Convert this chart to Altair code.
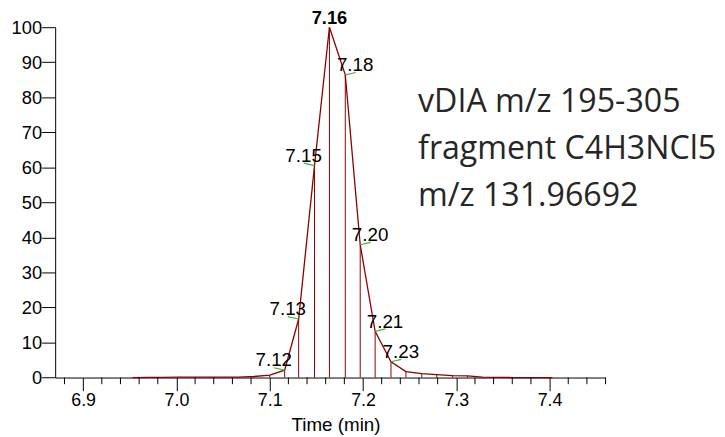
import altair as alt
import pandas as pd

# Scan times (min) and relative abundance (%)
times = [6.953, 6.969, 6.986, 7.002, 7.018, 7.034, 7.051, 7.067, 7.083, 7.100,
         7.116, 7.131, 7.148, 7.164, 7.181, 7.197, 7.213, 7.230, 7.246,
         7.263, 7.279, 7.296, 7.312, 7.328, 7.344, 7.361, 7.377, 7.393, 7.403]
values = [0.0, 0.05, 0.05, 0.1, 0.1, 0.1, 0.15, 0.15, 0.3, 0.7,
          2.1, 16.7, 60.5, 100.0, 86.4, 37.9, 13.2, 4.5, 1.7,
          1.1, 0.85, 0.56, 0.45, 0.1, 0.05, 0.0, 0.0, 0.0, 0.0]

# Peak-label annotations (scan time and displayed text)
label_times = [7.116, 7.131, 7.148, 7.164, 7.181, 7.197, 7.213, 7.230]
label_texts = ["7.12", "7.13", "7.15", "7.16", "7.18", "7.20", "7.21", "7.23"]

# Axis ticks
major_ticks = [6.9, 7.0, 7.1, 7.2, 7.3, 7.4]
minor_ticks = [6.88, 6.92, 6.94, 6.96, 6.98, 7.02, 7.04, 7.06, 7.08, 7.12, 7.14,
               7.16, 7.18, 7.22, 7.24, 7.26, 7.28, 7.32, 7.34, 7.36, 7.38,
               7.42, 7.44, 7.46]
y_ticks = [0, 10, 20, 30, 40, 50, 60, 70, 80, 90, 100]

annotation = "vDIA m/z 195-305\nfragment C4H3NCl5\nm/z 131.96692"

W, H = 556.6, 354.3
RED = "#8b0000"
GREEN = "#3fb53f"
FONT = "Liberation Sans"

df = pd.DataFrame({"t": times, "v": values})
lookup = dict(zip(times, values))
apex = times[values.index(max(values))]
lab = pd.DataFrame({
    "t": label_times,
    "v": [lookup[t] for t in label_times],
    "txt": label_texts,
})
lab["side"] = ["left" if t < apex else ("right" if t > apex else "top") for t in label_times]

xscale = alt.Scale(domain=[6.87, 7.46], nice=False, zero=False)
yscale = alt.Scale(domain=[0, 100], nice=False, zero=True)

xaxis = alt.Axis(values=major_ticks, format=".1f", tickSize=13.3, tickColor="black",
                 domainColor="black", labelFont=FONT, labelFontSize=18,
                 labelColor="black", labelPadding=1, grid=False, labelOverlap=False,
                 title="Time (min)", titleFont=FONT, titleFontSize=19,
                 titleFontWeight="normal", titleColor="black",
                 titleX=283.5, titleY=54, titleBaseline="alphabetic", titleAlign="center")
yaxis = alt.Axis(values=y_ticks, tickSize=13.7, tickColor="black", domainColor="black",
                 labelFont=FONT, labelFontSize=18.5, labelColor="black", labelPadding=0,
                 labelOverlap=False, grid=False, title=None)

X = alt.X("t:Q", scale=xscale, axis=xaxis)
Y = alt.Y("v:Q", scale=yscale, axis=yaxis)

line = alt.Chart(df).mark_line(color=RED, strokeWidth=1.3).encode(x=X, y=Y)

drops = alt.Chart(df[df.v > 0]).mark_rule(color=RED, strokeWidth=1).encode(
    x=X, y=Y, y2=alt.datum(0))

minor = alt.Chart(pd.DataFrame({"t": minor_ticks})).mark_rule(
    color="black", strokeWidth=1).encode(
    x=X, y=alt.value(H), y2=alt.value(H + 6.7))

left = lab[lab.side == "left"]
right = lab[lab.side == "right"]
top = lab[lab.side == "top"]

lead_left = alt.Chart(left).mark_rule(color=GREEN, strokeWidth=1.2, x2Offset=-11,
                                      y2Offset=-2.5).encode(
    x=X, x2="t:Q", y=Y, y2="v:Q")
lead_right = alt.Chart(right).mark_rule(color=GREEN, strokeWidth=1.2, x2Offset=10.5,
                                        y2Offset=-2.4).encode(
    x=X, x2="t:Q", y=Y, y2="v:Q")

txt_left = alt.Chart(left).mark_text(font=FONT, fontSize=19, color="black",
                                     align="center", baseline="middle",
                                     dx=-11, dy=-10).encode(
    x=X, y=Y, text="txt:N")
txt_right = alt.Chart(right).mark_text(font=FONT, fontSize=19, color="black",
                                       align="center", baseline="middle",
                                       dx=10, dy=-9.5).encode(
    x=X, y=Y, text="txt:N")
txt_top = alt.Chart(top).mark_text(font=FONT, fontSize=18.5, color="black",
                                   fontWeight="bold", align="center",
                                   baseline="middle", dx=0, dy=-9).encode(
    x=X, y=Y, text="txt:N")

note = alt.Chart(pd.DataFrame({"txt": [annotation]})).mark_text(
    font="Open Sans", fontSize=32.5, color="#262626", align="left",
    baseline="alphabetic", lineBreak="\n", lineHeight=47.6).encode(
    x=alt.value(367), y=alt.value(85.7), text="txt:N")

chart = alt.layer(line, drops, minor, lead_left, lead_right,
                  txt_left, txt_right, txt_top, note).properties(
    width=W, height=H,
    padding={"left": 47.7, "top": 17, "right": 112.7, "bottom": 57.7},
    autosize=alt.AutoSizeParams(type="none"),
).configure_view(stroke=None)

chart.save("out.html", embed_options={"renderer": "svg", "actions": False})
